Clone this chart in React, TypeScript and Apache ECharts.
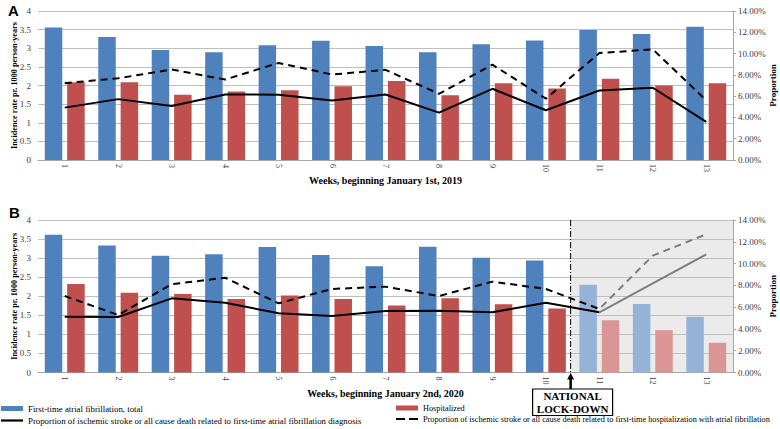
import React, { useEffect, useRef } from "react";
import * as echarts from "echarts";

const weeks = ["1", "2", "3", "4", "5", "6", "7", "8", "9", "10", "11", "12", "13"];
const leftTicks = [0, 0.5, 1, 1.5, 2, 2.5, 3, 3.5, 4];

// Panel A (2019)
const totalA = [3.56, 3.3, 2.95, 2.89, 3.08, 3.2, 3.06, 2.89, 3.11, 3.21, 3.49, 3.38, 3.58];
const hospA = [2.09, 2.09, 1.75, 1.84, 1.87, 1.98, 2.12, 1.74, 2.06, 1.92, 2.18, 2.0, 2.06];
const propDiagA = [4.92, 5.72, 5.07, 6.16, 6.13, 5.6, 6.16, 4.45, 6.69, 4.67, 6.53, 6.79, 3.58];
const propHospA = [7.22, 7.68, 8.5, 7.56, 9.12, 8.03, 8.47, 6.22, 8.96, 5.76, 10.05, 10.4, 5.6];

// Panel B (2020)
const totalB = [3.61, 3.33, 3.06, 3.1, 3.29, 3.08, 2.79, 3.3, 3.01, 2.94, 2.3, 1.8, 1.46];
const hospB = [2.32, 2.09, 2.06, 1.93, 2.02, 1.93, 1.76, 1.95, 1.79, 1.68, 1.37, 1.11, 0.78];
const propDiagB = [5.12, 5.1, 6.81, 6.41, 5.43, 5.19, 5.65, 5.68, 5.53, 6.41, 5.53, 8.19, 10.85];
const propHospB = [7.02, 5.28, 8.1, 8.7, 6.35, 7.67, 7.88, 7.02, 8.34, 7.67, 5.83, 10.73, 12.69];

const lockdownIndex = 10; // first week after the national lock-down

const nameTotal = "First-time atrial fibrillation, total";
const nameHosp = "Hospitalized";
const nameDiag =
  "Proportion of ischemic stroke or all cause death related to first-time atrial fibrillation diagnosis";
const nameHospProp =
  "Proportion of ischemic stroke or all cause death related to first-time hospitalization with atrial fibrillation";

const BLUE = "#4f81bd";
const RED = "#c0504d";
const LIGHT_BLUE = "#95b3d7";
const LIGHT_RED = "#d99694";
const SERIF = "'Liberation Serif', 'Times New Roman', serif";

export default function App() {
  const ref = useRef<HTMLDivElement>(null);

  useEffect(() => {
    if (!ref.current) return;
    const chart = echarts.init(ref.current, undefined, { renderer: "svg" });

    const grids = [
      { left: 38, top: 11, width: 695, height: 149, outerBoundsMode: "none", containLabel: false },
      { left: 38, top: 220, width: 695, height: 152.5, outerBoundsMode: "none", containLabel: false },
    ];

    const xAxis = [0, 1].map((i) => ({
      type: "category",
      gridIndex: i,
      data: weeks,
      name: i === 0 ? "Weeks, beginning January 1st, 2019" : "Weeks, beginning January 2nd, 2020",
      nameLocation: "middle",
      nameGap: 15,
      nameTextStyle: { fontFamily: SERIF, fontWeight: "bold", fontSize: 10, color: "#000" },
      axisLine: { show: true, lineStyle: { color: "#a6a6a6", width: 1 } },
      axisTick: { show: false },
      axisLabel: { rotate: -90, fontSize: 8, fontFamily: SERIF, color: "#404040", margin: 4 },
    }));

    const leftY = (gi: number) => ({
      type: "value",
      gridIndex: gi,
      min: 0,
      max: 4,
      interval: 0.5,
      name: "Incidence rate pr. 1000 person-years",
      nameLocation: "middle",
      nameGap: 20,
      nameMoveOverlap: false,
      nameTextStyle: { fontFamily: SERIF, fontWeight: "bold", fontSize: 8.2, color: "#000" },
      axisLine: { show: false },
      axisTick: { show: false },
      axisLabel: {
        fontSize: 9,
        fontFamily: SERIF,
        color: "#404040",
        margin: 7,
        formatter: (v: number) => (leftTicks.includes(v) ? String(v) : ""),
      },
      splitLine: { show: true, lineStyle: { color: "#bfbfbf", width: 1.2 } },
    });

    const rightY = (gi: number) => ({
      type: "value",
      gridIndex: gi,
      position: "right",
      min: 0,
      max: 14,
      interval: 2,
      name: "Proportion",
      nameLocation: "middle",
      nameGap: 35,
      nameRotate: 90,
      nameMoveOverlap: false,
      nameTextStyle: { fontFamily: SERIF, fontWeight: "bold", fontSize: 9, color: "#000" },
      axisLine: { show: true, lineStyle: { color: "#a6a6a6", width: 1 } },
      axisTick: { show: true, length: 3, lineStyle: { color: "#a6a6a6" } },
      axisLabel: {
        fontSize: 9,
        fontFamily: SERIF,
        color: "#404040",
        margin: 5,
        formatter: (v: number) => v.toFixed(2) + "%",
      },
      splitLine: { show: false },
    });

    const barBase = { type: "bar", barWidth: 17.5, barGap: "28%" };
    const lineBase = { type: "line", symbol: "none", showSymbol: false };

    const series: any[] = [
      { ...barBase, name: nameTotal, xAxisIndex: 0, yAxisIndex: 0, data: totalA, itemStyle: { color: BLUE } },
      { ...barBase, name: nameHosp, xAxisIndex: 0, yAxisIndex: 0, data: hospA, itemStyle: { color: RED } },
      {
        ...lineBase,
        name: nameDiag,
        xAxisIndex: 0,
        yAxisIndex: 1,
        data: propDiagA,
        itemStyle: { color: "#000" },
        lineStyle: { color: "#000", width: 2 },
        z: 5,
      },
      {
        ...lineBase,
        name: nameHospProp,
        xAxisIndex: 0,
        yAxisIndex: 1,
        data: propHospA,
        itemStyle: { color: "#000" },
        lineStyle: { color: "#000", width: 2, type: [7, 5] },
        z: 5,
      },
      {
        ...barBase,
        name: nameTotal,
        xAxisIndex: 1,
        yAxisIndex: 2,
        data: totalB.map((v, i) => (i >= lockdownIndex ? { value: v, itemStyle: { color: LIGHT_BLUE } } : v)),
        itemStyle: { color: BLUE },
      },
      {
        ...barBase,
        name: nameHosp,
        xAxisIndex: 1,
        yAxisIndex: 2,
        data: hospB.map((v, i) => (i >= lockdownIndex ? { value: v, itemStyle: { color: LIGHT_RED } } : v)),
        itemStyle: { color: RED },
      },
      {
        ...lineBase,
        name: nameDiag,
        xAxisIndex: 1,
        yAxisIndex: 3,
        data: propDiagB,
        lineStyle: { width: 2 },
        z: 5,
      },
      {
        ...lineBase,
        name: nameHospProp,
        xAxisIndex: 1,
        yAxisIndex: 3,
        data: propHospB,
        lineStyle: { width: 2, type: [7, 5] },
        z: 5,
      },
    ];

    const solidIcon = "path://M0,0h22v2.2h-22z";
    const dashIcon = "path://M0,0h9v2.2h-9zM13,0h9v2.2h-9z";

    const option: any = {
      animation: false,
      grid: grids,
      xAxis,
      yAxis: [leftY(0), rightY(0), leftY(1), rightY(1)],
      visualMap: [
        {
          type: "piecewise",
          show: false,
          dimension: 0,
          seriesIndex: [6, 7],
          pieces: [
            { gte: -1, lte: lockdownIndex - 0.5, color: "#000" },
            { gt: lockdownIndex - 0.5, lte: weeks.length, color: "#7f7f7f" },
          ],
          outOfRange: { color: "#7f7f7f" },
        },
      ],
      legend: [
        {
          data: [
            { name: nameTotal, icon: "rect" },
            { name: nameDiag, icon: solidIcon },
          ],
          orient: "vertical",
          left: 1,
          top: 404,
          itemWidth: 22,
          itemHeight: 5,
          itemGap: 3,
          padding: 0,
          textStyle: { fontFamily: SERIF, fontSize: 8.8, color: "#000" },
          selectedMode: false,
        },
        {
          data: [
            { name: nameHosp, icon: "rect" },
            { name: nameHospProp, icon: dashIcon },
          ],
          orient: "vertical",
          left: 396,
          top: 404,
          itemWidth: 22,
          itemHeight: 5,
          itemGap: 3,
          padding: 0,
          textStyle: { fontFamily: SERIF, fontSize: 8.25, color: "#000" },
          selectedMode: false,
        },
      ],
      series,
    };

    chart.setOption(option);

    // Annotations located from the chart's own scales
    const x10 = chart.convertToPixel({ gridIndex: 1 }, [lockdownIndex - 1, 0]) as number[];
    const x11 = chart.convertToPixel({ gridIndex: 1 }, [lockdownIndex, 0]) as number[];
    const topPt = chart.convertToPixel({ xAxisIndex: 1, yAxisIndex: 2 }, [0, 4]) as number[];
    const divX = (x10[0] + x11[0]) / 2 - 2;
    const yTop = topPt[1];
    const yBot = x10[1];
    const xRight = grids[1].left + grids[1].width;

    chart.setOption({
      graphic: [
        {
          type: "rect",
          z: -10,
          silent: true,
          shape: { x: divX, y: yTop, width: xRight - divX, height: yBot - yTop },
          style: { fill: "#ebebeb" },
        },
        {
          type: "line",
          z: 10,
          silent: true,
          shape: { x1: divX, y1: yTop, x2: divX, y2: yBot },
          style: { stroke: "#000", lineWidth: 1, lineDash: [6, 2, 1, 2] },
        },
        {
          type: "line",
          z: 10,
          silent: true,
          shape: { x1: divX, y1: yBot + 16.5, x2: divX, y2: yBot + 6 },
          style: { stroke: "#000", lineWidth: 2.5 },
        },
        {
          type: "polygon",
          z: 10,
          silent: true,
          shape: { points: [[divX - 3.5, yBot + 7], [divX + 3.5, yBot + 7], [divX, yBot + 0.5]] },
          style: { fill: "#000" },
        },
        {
          type: "rect",
          z: 10,
          silent: true,
          shape: { x: divX - 38, y: yBot + 16.5, width: 80, height: 26.5 },
          style: { fill: "#fff", stroke: "#000", lineWidth: 1.2 },
        },
        {
          type: "text",
          z: 11,
          silent: true,
          x: divX + 2,
          y: yBot + 30,
          style: {
            text: "NATIONAL\nLOCK-DOWN",
            align: "center",
            verticalAlign: "middle",
            fontFamily: SERIF,
            fontWeight: "bold",
            fontSize: 11,
            lineHeight: 12.5,
            fill: "#000",
          },
        },
        {
          type: "text",
          left: 8,
          top: 3,
          style: { text: "A", fontFamily: "Arial, 'Liberation Sans', sans-serif", fontWeight: "bold", fontSize: 15, fill: "#000" },
        },
        {
          type: "text",
          left: 9,
          top: 205,
          style: { text: "B", fontFamily: "Arial, 'Liberation Sans', sans-serif", fontWeight: "bold", fontSize: 15, fill: "#000" },
        },
      ],
    });

    return () => chart.dispose();
  }, []);

  return <div ref={ref} style={{ width: 780, height: 429, position: "absolute", left: 0, top: 0 }} />;
}
